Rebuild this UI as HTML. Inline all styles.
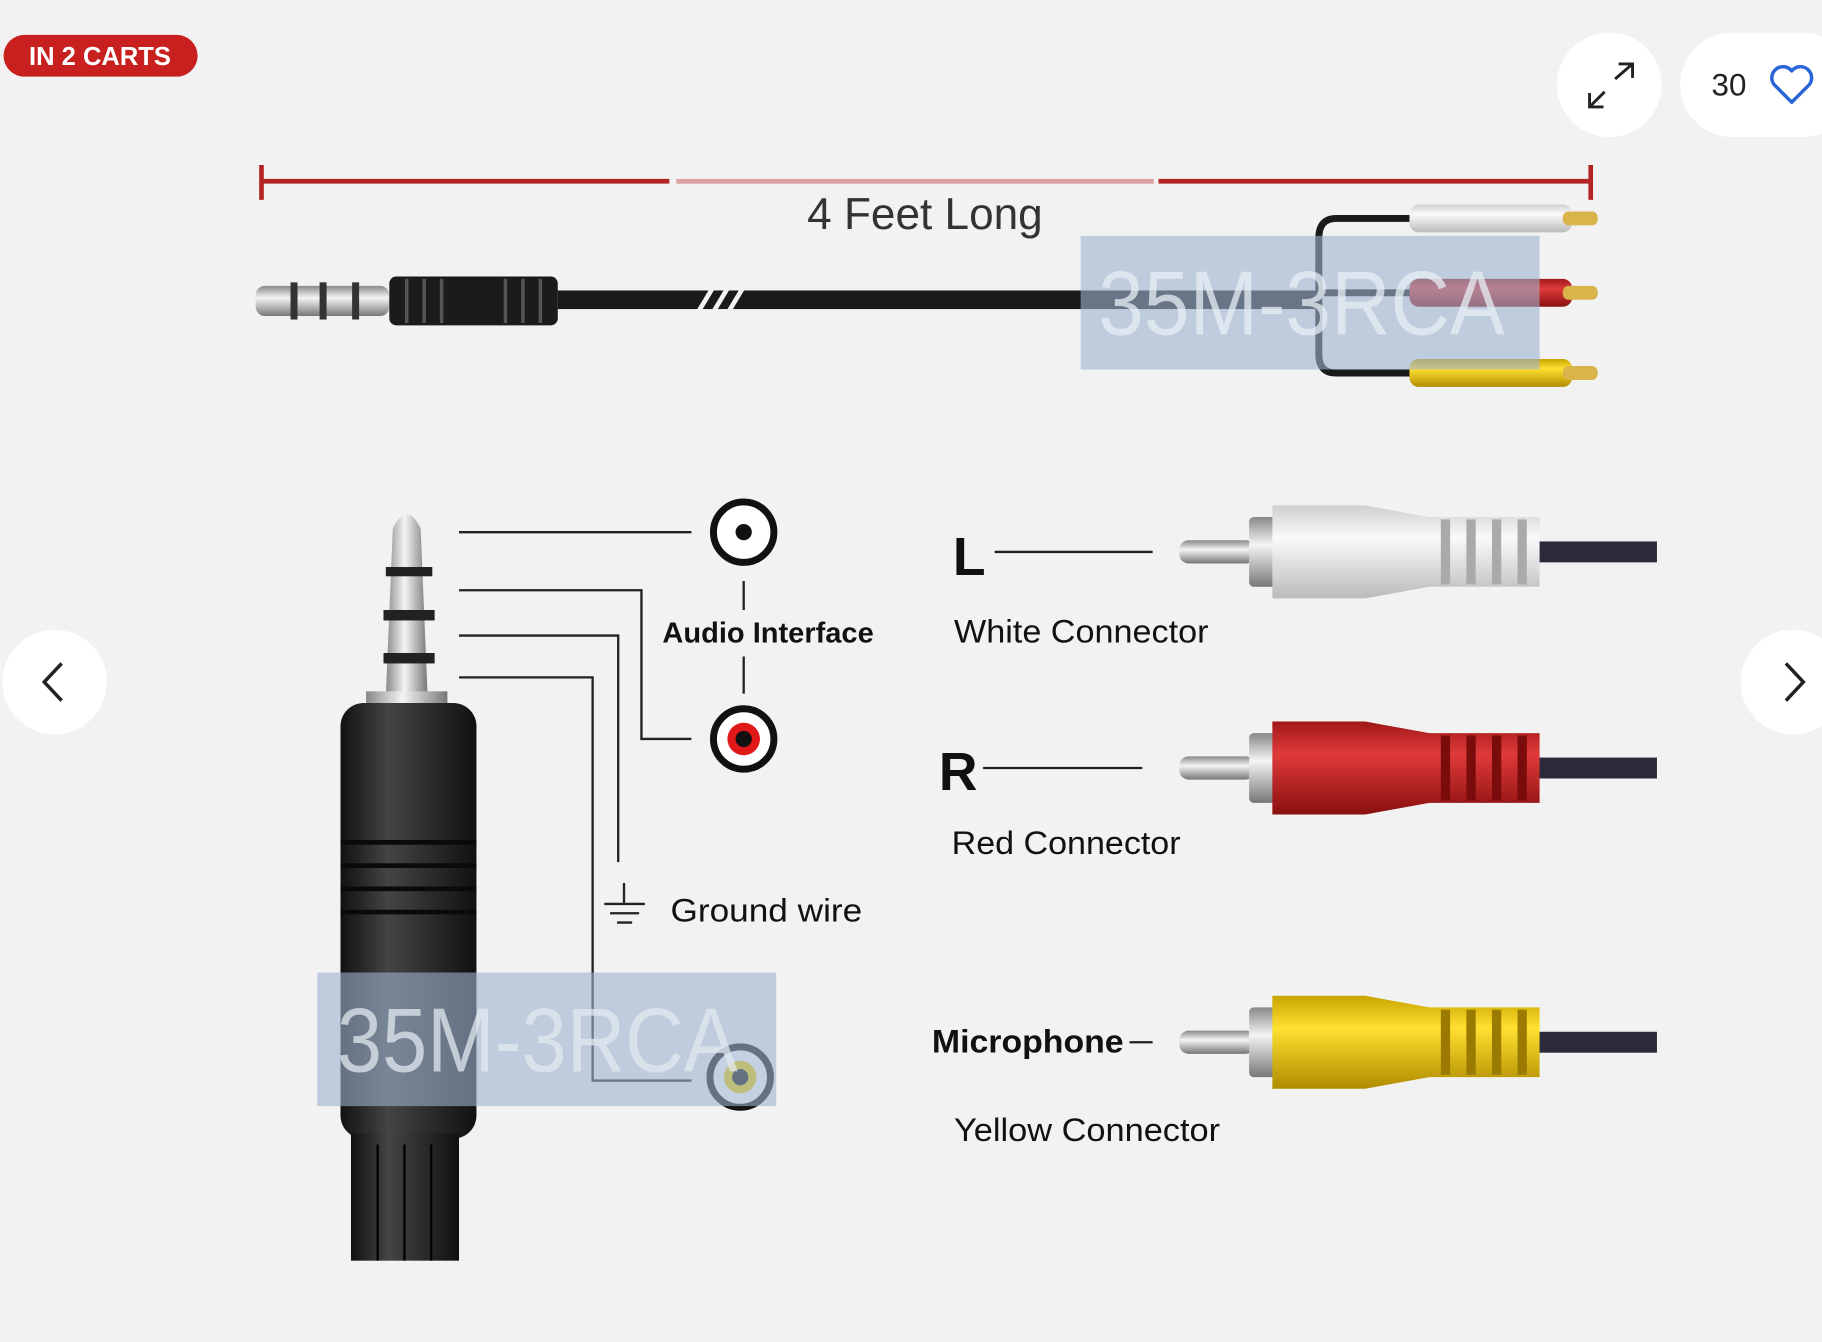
<!DOCTYPE html>
<html><head><meta charset="utf-8"><style>
html,body{margin:0;padding:0;background:#f2f2f2;}
svg{display:block;}
text{font-family:"Liberation Sans",sans-serif;}
</style></head><body>
<svg width="1822" height="1342" viewBox="0 0 1568 1155" xmlns="http://www.w3.org/2000/svg">
<defs>
<linearGradient id="met" x1="0" y1="0" x2="0" y2="1"><stop offset="0" stop-color="#888"/><stop offset=".4" stop-color="#f4f4f4"/><stop offset="1" stop-color="#777"/></linearGradient>
<linearGradient id="metv" x1="0" y1="0" x2="1" y2="0"><stop offset="0" stop-color="#888"/><stop offset=".45" stop-color="#f4f4f4"/><stop offset="1" stop-color="#777"/></linearGradient>
<linearGradient id="blk" x1="0" y1="0" x2="1" y2="0"><stop offset="0" stop-color="#111"/><stop offset=".35" stop-color="#444"/><stop offset="1" stop-color="#111"/></linearGradient>
<linearGradient id="wh" x1="0" y1="0" x2="0" y2="1"><stop offset="0" stop-color="#cfcfcf"/><stop offset=".35" stop-color="#fafafa"/><stop offset="1" stop-color="#bbb"/></linearGradient>
<linearGradient id="rd" x1="0" y1="0" x2="0" y2="1"><stop offset="0" stop-color="#a01818"/><stop offset=".35" stop-color="#e03a3a"/><stop offset="1" stop-color="#8a1010"/></linearGradient>
<linearGradient id="yl" x1="0" y1="0" x2="0" y2="1"><stop offset="0" stop-color="#c9a400"/><stop offset=".35" stop-color="#ffe030"/><stop offset="1" stop-color="#b08c00"/></linearGradient>
</defs>
<rect width="1568" height="1155" fill="#f2f2f2"/>
<rect x="3" y="30" width="167" height="36" rx="18" fill="#c8201e"/>
<text x="86" y="56" font-size="22" font-weight="bold" fill="#fff" text-anchor="middle">IN 2 CARTS</text>
<circle cx="1385" cy="73" r="45" fill="#fff"/>
<path d="M1368 92 L1381 79 M1368 80 V92 H1380 M1390 68 L1405 55 M1393 55 H1405 V67" stroke="#222" stroke-width="2.5" fill="none"/>
<rect x="1446" y="28" width="150" height="90" rx="45" fill="#fff"/>
<text x="1488" y="82" font-size="27" fill="#222" text-anchor="middle">30</text>
<path d="M1542 88 L1527 73 A9 9 0 0 1 1542 61 A9 9 0 0 1 1557 73 Z" stroke="#2a66d9" stroke-width="3" fill="none" stroke-linejoin="round"/>
<circle cx="47" cy="587" r="45" fill="#fff"/>
<path d="M53 571 L38 587 L53 603" stroke="#222" stroke-width="3" fill="none"/>
<circle cx="1543" cy="587" r="45" fill="#fff"/>
<path d="M1537 571 L1552 587 L1537 603" stroke="#222" stroke-width="3" fill="none"/>
<line x1="224" y1="156" x2="576" y2="156" stroke="#b52424" stroke-width="4"/>
<line x1="582" y1="156" x2="993" y2="156" stroke="#dba0a0" stroke-width="4"/>
<line x1="997" y1="156" x2="1370" y2="156" stroke="#b52424" stroke-width="4"/>
<line x1="225" y1="142" x2="225" y2="172" stroke="#b52424" stroke-width="4"/>
<line x1="1369" y1="142" x2="1369" y2="172" stroke="#b52424" stroke-width="4"/>
<text x="796" y="197" font-size="38" fill="#333" text-anchor="middle">4 Feet Long</text>
<rect x="220" y="246" width="115" height="26" rx="8" fill="url(#met)"/>
<rect x="250" y="243" width="6" height="32" fill="#333"/><rect x="275" y="243" width="6" height="32" fill="#333"/><rect x="303" y="243" width="6" height="32" fill="#333"/>
<rect x="335" y="238" width="145" height="42" rx="6" fill="#1b1b1b"/>
<g stroke="#555" stroke-width="3"><line x1="350" y1="240" x2="350" y2="278"/><line x1="365" y1="240" x2="365" y2="278"/><line x1="380" y1="240" x2="380" y2="278"/><line x1="435" y1="240" x2="435" y2="278"/><line x1="450" y1="240" x2="450" y2="278"/><line x1="465" y1="240" x2="465" y2="278"/></g>
<rect x="480" y="250" width="655" height="16" fill="#1a1a1a"/>
<g stroke="#f2f2f2" stroke-width="4"><line x1="600" y1="270" x2="615" y2="245"/><line x1="613" y1="270" x2="628" y2="245"/><line x1="626" y1="270" x2="641" y2="245"/></g>
<path d="M1215 188 H1150 Q1135 188 1135 205 V305 Q1135 321 1150 321 H1215 M1135 252 H1215" stroke="#1a1a1a" stroke-width="6" fill="none"/>
<rect x="1213" y="176" width="140" height="24" rx="8" fill="url(#wh)"/><rect x="1345" y="182" width="30" height="12" rx="5" fill="#d9b44a"/>
<rect x="1213" y="240" width="140" height="24" rx="8" fill="url(#rd)"/><rect x="1345" y="246" width="30" height="12" rx="5" fill="#d9b44a"/>
<rect x="1213" y="309" width="140" height="24" rx="8" fill="url(#yl)"/><rect x="1345" y="315" width="30" height="12" rx="5" fill="#d9b44a"/>
<rect x="930" y="203" width="395" height="115" fill="#9bb3cf" opacity="0.6"/>
<text x="945" y="288" font-size="78" fill="#e8eef5" opacity="0.75" textLength="350" lengthAdjust="spacingAndGlyphs">35M-3RCA</text>
<path d="M338 455 Q350 430 362 455 L368 600 H332 Z" fill="url(#metv)"/>
<rect x="332" y="488" width="40" height="8" fill="#222"/><rect x="330" y="525" width="44" height="9" fill="#222"/><rect x="330" y="562" width="44" height="9" fill="#222"/>
<rect x="315" y="595" width="70" height="15" fill="url(#metv)"/>
<rect x="293" y="605" width="117" height="375" rx="20" fill="url(#blk)"/>
<g stroke="#0a0a0a" stroke-width="4"><line x1="293" y1="725" x2="410" y2="725"/><line x1="293" y1="745" x2="410" y2="745"/><line x1="293" y1="765" x2="410" y2="765"/><line x1="293" y1="785" x2="410" y2="785"/></g>
<rect x="302" y="975" width="93" height="110" fill="url(#blk)"/>
<g stroke="#000" stroke-width="2"><line x1="325" y1="985" x2="325" y2="1085"/><line x1="348" y1="985" x2="348" y2="1085"/><line x1="371" y1="985" x2="371" y2="1085"/></g>
<g stroke="#222" stroke-width="2" fill="none">
<path d="M395 458 H595"/><path d="M395 508 H552 V636 H595"/><path d="M395 547 H532 V742"/><path d="M395 583 H510 V930 H595"/>
<path d="M640 500 V525 M640 565 V597"/>
<path d="M537 760 V778 M520 778 H555 M525 786 H550 M531 794 H544"/>
</g>
<circle cx="640" cy="458" r="26" fill="#fff" stroke="#111" stroke-width="6"/><circle cx="640" cy="458" r="7" fill="#111"/>
<circle cx="640" cy="636" r="26" fill="#fff" stroke="#111" stroke-width="6"/><circle cx="640" cy="636" r="14" fill="#e01818"/><circle cx="640" cy="636" r="7" fill="#111"/>
<circle cx="637" cy="927" r="26" fill="#fff" stroke="#111" stroke-width="6"/><circle cx="637" cy="927" r="14" fill="#f0d000"/><circle cx="637" cy="927" r="7" fill="#111"/>
<text x="661" y="553" font-size="25" font-weight="bold" fill="#111" text-anchor="middle">Audio Interface</text>
<text x="577" y="793" font-size="28" fill="#111" textLength="165" lengthAdjust="spacingAndGlyphs">Ground wire</text>
<rect x="273" y="837" width="395" height="115" fill="#9bb3cf" opacity="0.6"/>
<text x="290" y="922" font-size="78" fill="#e2e8ef" opacity="0.75" textLength="345" lengthAdjust="spacingAndGlyphs">35M-3RCA</text>
<text x="820" y="495" font-size="46" font-weight="bold" fill="#111">L</text>
<line x1="856" y1="475" x2="992" y2="475" stroke="#222" stroke-width="2"/>
<text x="821" y="553" font-size="28" fill="#111" textLength="219" lengthAdjust="spacingAndGlyphs">White Connector</text>
<text x="808" y="680" font-size="46" font-weight="bold" fill="#111">R</text>
<line x1="846" y1="661" x2="983" y2="661" stroke="#222" stroke-width="2"/>
<text x="819" y="735" font-size="28" fill="#111" textLength="197" lengthAdjust="spacingAndGlyphs">Red Connector</text>
<text x="802" y="906" font-size="28" font-weight="bold" fill="#111" textLength="165" lengthAdjust="spacingAndGlyphs">Microphone</text>
<line x1="972" y1="897" x2="992" y2="897" stroke="#222" stroke-width="2"/>
<text x="821" y="982" font-size="28" fill="#111" textLength="229" lengthAdjust="spacingAndGlyphs">Yellow Connector</text>
<g transform="translate(0,475)">
<rect x="1320" y="-9" width="106" height="18" fill="#2a2a3a"/>
<rect x="1015" y="-10" width="65" height="20" rx="8" fill="url(#met)"/>
<rect x="1075" y="-30" width="25" height="60" rx="4" fill="url(#met)"/>
<path d="M1095 -40 H1175 L1230 -30 H1325 V30 H1230 L1175 40 H1095 Z" fill="url(#wh)"/>
<g fill="#aaa"><rect x="1240" y="-28" width="8" height="56"/><rect x="1262" y="-28" width="8" height="56"/><rect x="1284" y="-28" width="8" height="56"/><rect x="1306" y="-28" width="8" height="56"/></g>
</g>
<g transform="translate(0,661)">
<rect x="1320" y="-9" width="106" height="18" fill="#2a2a3a"/>
<rect x="1015" y="-10" width="65" height="20" rx="8" fill="url(#met)"/>
<rect x="1075" y="-30" width="25" height="60" rx="4" fill="url(#met)"/>
<path d="M1095 -40 H1175 L1230 -30 H1325 V30 H1230 L1175 40 H1095 Z" fill="url(#rd)"/>
<g fill="#7a0c0c"><rect x="1240" y="-28" width="8" height="56"/><rect x="1262" y="-28" width="8" height="56"/><rect x="1284" y="-28" width="8" height="56"/><rect x="1306" y="-28" width="8" height="56"/></g>
</g>
<g transform="translate(0,897)">
<rect x="1320" y="-9" width="106" height="18" fill="#2a2a3a"/>
<rect x="1015" y="-10" width="65" height="20" rx="8" fill="url(#met)"/>
<rect x="1075" y="-30" width="25" height="60" rx="4" fill="url(#met)"/>
<path d="M1095 -40 H1175 L1230 -30 H1325 V30 H1230 L1175 40 H1095 Z" fill="url(#yl)"/>
<g fill="#9a7a00"><rect x="1240" y="-28" width="8" height="56"/><rect x="1262" y="-28" width="8" height="56"/><rect x="1284" y="-28" width="8" height="56"/><rect x="1306" y="-28" width="8" height="56"/></g>
</g>
</svg>
</body></html>
